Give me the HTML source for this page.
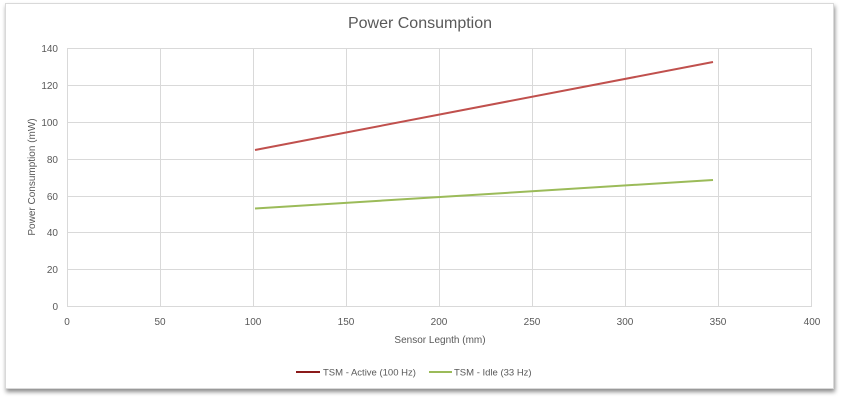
<!DOCTYPE html>
<html><head><meta charset="utf-8"><style>
html,body{margin:0;padding:0;background:#fff;width:841px;height:400px;overflow:hidden}
text{font-family:"Liberation Sans",sans-serif;fill:#595959}
</style></head><body>
<svg width="841" height="400" xmlns="http://www.w3.org/2000/svg">
<defs><filter id="sh" x="-5%" y="-5%" width="110%" height="115%"><feDropShadow dx="1" dy="3" stdDeviation="2" flood-color="#000" flood-opacity="0.45"/></filter></defs>
<rect x="5.5" y="3.5" width="828" height="385" fill="#fff" stroke="#d9d9d9" filter="url(#sh)"/>
<text x="420" y="28" font-size="16" text-anchor="middle">Power Consumption</text>
<g stroke="#d9d9d9" stroke-width="1">
<line x1="67" y1="48.5" x2="812" y2="48.5"/><line x1="67" y1="85.5" x2="812" y2="85.5"/><line x1="67" y1="122.5" x2="812" y2="122.5"/><line x1="67" y1="159.5" x2="812" y2="159.5"/><line x1="67" y1="196.5" x2="812" y2="196.5"/><line x1="67" y1="232.5" x2="812" y2="232.5"/><line x1="67" y1="269.5" x2="812" y2="269.5"/><line x1="67" y1="306.5" x2="812" y2="306.5"/>
<line x1="67.5" y1="48" x2="67.5" y2="306"/><line x1="160.5" y1="48" x2="160.5" y2="306"/><line x1="253.5" y1="48" x2="253.5" y2="306"/><line x1="346.5" y1="48" x2="346.5" y2="306"/><line x1="439.5" y1="48" x2="439.5" y2="306"/><line x1="532.5" y1="48" x2="532.5" y2="306"/><line x1="625.5" y1="48" x2="625.5" y2="306"/><line x1="718.5" y1="48" x2="718.5" y2="306"/><line x1="811.5" y1="48" x2="811.5" y2="306"/>
</g>
<g font-size="10" text-anchor="end">
<text x="58" y="52">140</text><text x="58" y="89">120</text><text x="58" y="126">100</text><text x="58" y="163">80</text><text x="58" y="200">60</text><text x="58" y="236">40</text><text x="58" y="273">20</text><text x="58" y="310">0</text>
</g>
<g font-size="10" text-anchor="middle">
<text x="67" y="325">0</text><text x="160" y="325">50</text><text x="253" y="325">100</text><text x="346" y="325">150</text><text x="439" y="325">200</text><text x="532" y="325">250</text><text x="625" y="325">300</text><text x="718" y="325">350</text><text x="812" y="325">400</text>
</g>
<text x="440" y="343" font-size="10" text-anchor="middle">Sensor Legnth  (mm)</text>
<text transform="translate(35,177) rotate(-90)" font-size="10" text-anchor="middle">Power Consumption (mW)</text>
<line x1="255" y1="150" x2="713" y2="62" stroke="#c0504d" stroke-width="2"/>
<line x1="255" y1="208.5" x2="713" y2="180" stroke="#9bbb59" stroke-width="2"/>
<line x1="296" y1="372" x2="320" y2="372" stroke="#8b1a1a" stroke-width="2"/>
<text x="323" y="375.5" font-size="9.5">TSM - Active (100 Hz)</text>
<line x1="429" y1="372" x2="452" y2="372" stroke="#9bbb59" stroke-width="2"/>
<text x="454" y="375.5" font-size="9.5">TSM - Idle (33 Hz)</text>
</svg>
</body></html>
